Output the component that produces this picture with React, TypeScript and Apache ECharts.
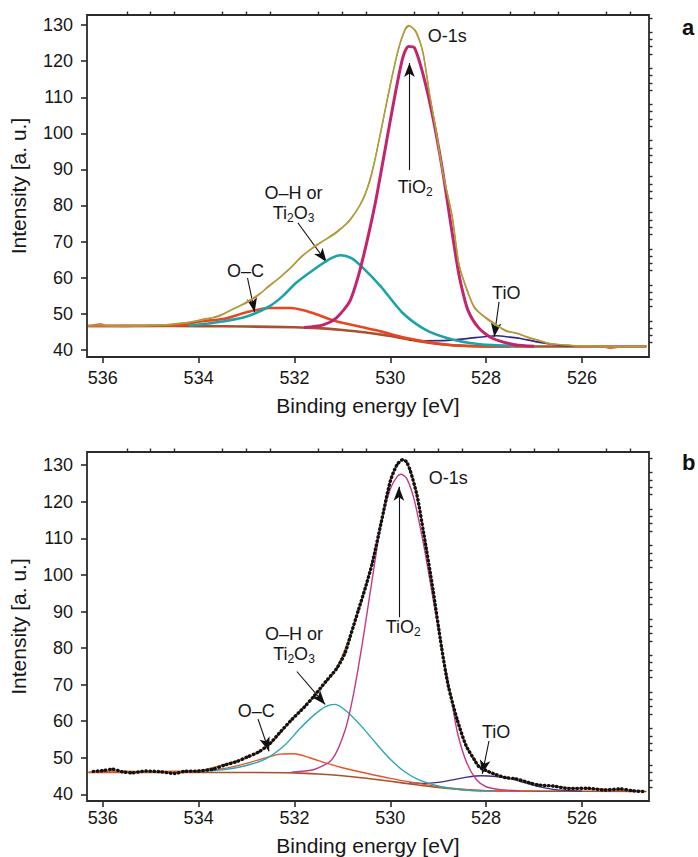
import React, { useEffect, useRef } from "react";
import * as echarts from "echarts";

const FONT = '"Liberation Sans", Arial, Helvetica, sans-serif';
type P = [number, number][];

// ---- tick values ----
const xMajorTicks = [526, 528, 530, 532, 534, 536];
const xMinorTicks = [525, 525.5, 526.5, 527, 527.5, 528.5, 529, 529.5, 530.5, 531, 531.5, 532.5, 533, 533.5, 534.5, 535, 535.5];
const yMajorTicks = [40, 50, 60, 70, 80, 90, 100, 110, 120, 130];
const yMinorTicks = [42, 44, 46, 48, 52, 54, 56, 58, 62, 64, 66, 68, 72, 74, 76, 78, 82, 84, 86, 88, 92, 94, 96, 98, 102, 104, 106, 108, 112, 114, 116, 118, 122, 124, 126, 128, 132];

// ---- panel a ----
const bgA: P = [[536.3, 46.6], [535, 46.6], [534, 46.55], [533, 46.45], [532, 46.25], [531.5, 46.0], [531, 45.5], [530.5, 44.8], [530, 43.8], [529.5, 42.6], [529, 41.6], [528.5, 41.1], [528, 40.95], [526, 40.9], [524.65, 40.9]];
const tio2A: P = [[531.8, 46.2], [531.4, 46.9], [531.13, 48.8], [530.85, 53.3], [530.67, 60.3], [530.48, 70.4], [530.3, 81.5], [530.11, 95.4], [529.92, 109.3], [529.74, 120.9], [529.62, 124.1], [529.5, 123.8], [529.36, 118.5], [529.2, 110.0], [529.05, 100.3], [528.9, 89.0], [528.76, 76.9], [528.62, 64.9], [528.53, 58.5], [528.38, 51.0], [528.15, 46.0], [527.87, 43.2], [527.4, 41.4], [527.0, 41.0]];
const ohA: P = [[534.2, 46.7], [533.8, 47.3], [533.46, 47.9], [533.0, 49.2], [532.53, 52.0], [532.25, 54.8], [531.97, 58.5], [531.6, 62.2], [531.23, 65.4], [531.04, 66.2], [530.81, 65.4], [530.57, 62.7], [530.2, 57.6], [529.74, 50.2], [529.27, 45.6], [528.8, 43.2], [528.34, 41.9], [527.87, 41.3], [527.4, 41.1]];
const ocA: P = [[536.3, 46.6], [534.8, 46.7], [534.4, 46.9], [533.93, 47.9], [533.46, 48.6], [533.0, 50.4], [532.53, 51.6], [532.07, 51.6], [531.79, 50.9], [531.51, 49.7], [531.13, 47.9], [530.67, 46.5], [530.2, 45.1], [529.74, 43.5], [529.27, 42.3], [528.8, 41.4], [528.2, 41.0], [527.5, 40.9]];
const tioA: P = [[529.6, 42.7], [529.27, 42.5], [528.8, 42.6], [528.4, 43.1], [528.0, 43.7], [527.78, 43.9], [527.5, 43.5], [527.31, 43.2], [526.94, 42.2], [526.6, 41.5], [526.38, 41.2], [526.0, 41.0]];
const fitA: P = [[536.3, 46.6], [535, 46.7], [534.4, 47.4], [533.93, 48.2], [533.46, 50.1], [533.0, 53.3], [532.53, 57.5], [532.07, 63.0], [531.6, 68.6], [531.13, 72.3], [530.85, 76.0], [530.57, 81.5], [530.39, 89.0], [530.2, 100.1], [530.01, 113.0], [529.83, 123.1], [529.69, 128.7], [529.6, 129.6], [529.46, 128.3], [529.32, 122.3], [529.18, 111.1], [529.04, 100.1], [528.9, 89.0], [528.71, 76.9], [528.57, 64.1], [528.43, 57.5], [528.24, 51.9], [527.96, 48.2], [527.59, 45.5], [527.13, 43.6], [526.67, 41.8], [526.0, 41.1], [525.0, 40.9], [524.65, 41.0]];
const rawA: P = [[536.3, 46.5], [536.05, 47.2], [535.9, 46.6], [535.5, 46.5], [535, 46.8], [534.6, 46.9], [534.2, 47.6], [533.93, 48.4], [533.6, 49.2], [533.3, 51.2], [533.0, 53.0], [532.75, 55.2], [532.53, 57.7], [532.3, 60.1], [532.07, 62.8], [531.85, 65.9], [531.6, 68.4], [531.35, 70.6], [531.13, 72.6], [530.85, 75.8], [530.57, 81.8], [530.39, 88.6], [530.2, 100.4], [530.01, 112.7], [529.83, 123.4], [529.69, 128.9], [529.62, 129.9], [529.55, 129.4], [529.46, 128.0], [529.32, 122.6], [529.18, 110.8], [529.04, 100.4], [528.9, 88.7], [528.71, 77.2], [528.57, 63.8], [528.43, 57.8], [528.24, 51.6], [527.96, 48.5], [527.75, 46.6], [527.59, 45.2], [527.35, 44.6], [527.13, 43.4], [526.9, 42.6], [526.67, 41.6], [526.3, 41.3], [526.0, 40.9], [525.7, 41.1], [525.4, 40.4], [525.1, 41.0], [524.8, 40.8], [524.65, 41.1]];
// annotations: [x, y, text]
const labelsA: [number, number, string][] = [
  [528.81, 127.0, "O-1s"],
  [529.48, 85.1, "{n|TiO}{s|2}"],
  [532.02, 80.7, "O–H or\n{n|Ti}{s|2}{n|O}{s|3}"],
  [533.02, 61.8, "O–C"],
  [527.58, 55.7, "TiO"],
];
// arrows: [x1, y1, x2, y2] (tail -> head)
const arrowsA: [number, number, number, number][] = [
  [529.6, 89.8, 529.6, 119.5],
  [531.93, 75.2, 531.33, 64.3],
  [532.98, 59.9, 532.83, 50.5],
  [527.73, 53.3, 527.83, 43.6],
];

// ---- panel b ----
const bgB: P = [[536.3, 46.0], [533, 46.0], [532, 45.9], [531.5, 45.6], [531, 45.1], [530.5, 44.4], [530, 43.6], [529.5, 42.7], [529, 41.9], [528.5, 41.3], [528, 41.0], [527, 40.9], [524.65, 40.8]];
const tio2B: P = [[532.06, 46.1], [531.59, 46.8], [531.22, 49.5], [530.94, 57.7], [530.75, 68.6], [530.56, 83.2], [530.38, 98.6], [530.19, 114.1], [530.0, 123.5], [529.85, 127.0], [529.77, 127.5], [529.65, 126.2], [529.5, 120.5], [529.3, 108.0], [529.1, 93.0], [528.9, 78.0], [528.75, 68.0], [528.6, 57.0], [528.4, 48.5], [528.2, 44.0], [528.0, 42.1], [527.7, 41.3], [527.3, 41.0]];
const ohB: P = [[534.0, 46.3], [533.5, 46.7], [533.0, 47.9], [532.6, 49.7], [532.2, 53.5], [531.9, 57.8], [531.6, 61.6], [531.35, 64.0], [531.15, 64.6], [530.9, 62.6], [530.6, 58.6], [530.3, 54.0], [530.0, 49.6], [529.7, 46.2], [529.4, 44.0], [529.0, 42.3], [528.6, 41.4], [528.2, 41.0], [527.8, 40.9]];
const ocB: P = [[536.3, 46.1], [534.5, 46.1], [534.0, 46.3], [533.5, 47.0], [533.0, 48.5], [532.6, 50.0], [532.3, 51.0], [532.0, 51.1], [531.7, 50.1], [531.3, 48.4], [531.0, 47.3], [530.5, 45.8], [530.0, 44.4], [529.5, 43.2], [529.0, 42.1], [528.5, 41.4], [528.0, 41.0], [527.0, 40.9]];
const tioB: P = [[529.6, 43.2], [529.3, 43.0], [529.0, 43.3], [528.7, 44.0], [528.4, 44.7], [528.1, 45.1], [527.8, 44.9], [527.5, 44.3], [527.2, 43.2], [526.9, 42.1], [526.6, 41.4], [526.3, 41.1], [526.0, 40.9]];
const fitB: P = [[536.2, 46.4], [535.5, 46.3], [535, 46.2], [534.5, 46.3], [533.93, 46.6], [533.46, 48.2], [532.99, 50.0], [532.52, 53.6], [532.06, 60.5], [531.59, 66.8], [531.12, 74.5], [530.84, 83.2], [530.66, 90.4], [530.38, 103.2], [530.19, 114.1], [530.0, 125.9], [529.86, 130.0], [529.74, 131.6], [529.58, 128.6], [529.44, 121.4], [529.3, 111.4], [529.11, 95.9], [528.93, 80.4], [528.79, 69.5], [528.6, 60.5], [528.42, 53.2], [528.14, 47.7], [527.85, 45.5], [527.39, 44.1], [526.92, 42.7], [526.27, 41.8], [525.52, 41.4], [524.73, 40.9]];
const rawB: P = [[536.2, 46.3], [536.0, 46.5], [535.8, 46.9], [535.6, 46.2], [535.4, 45.9], [535.1, 46.4], [534.8, 46.2], [534.5, 45.7], [534.3, 46.3], [534.0, 46.4], [533.7, 46.9], [533.46, 48.0], [533.2, 49.0], [532.99, 50.2], [532.75, 51.6], [532.52, 53.8], [532.3, 57.0], [532.06, 60.4], [531.8, 63.8], [531.59, 66.9], [531.35, 70.8], [531.12, 74.4], [530.95, 78.5], [530.84, 83.0], [530.66, 90.6], [530.5, 97.4], [530.38, 103.0], [530.19, 114.3], [530.0, 125.6], [529.86, 130.1], [529.74, 131.5], [529.66, 130.9], [529.58, 128.4], [529.44, 121.6], [529.3, 111.2], [529.11, 96.1], [528.93, 80.2], [528.79, 69.7], [528.6, 60.3], [528.42, 53.4], [528.25, 49.6], [528.14, 47.5], [527.85, 45.7], [527.6, 44.6], [527.39, 44.3], [527.1, 43.2], [526.92, 42.6], [526.6, 42.3], [526.27, 41.6], [525.9, 41.7], [525.52, 41.2], [525.2, 41.5], [524.95, 41.0], [524.73, 40.8]];
const labelsB: [number, number, string][] = [
  [528.79, 126.5, "O-1s"],
  [529.73, 85.9, "{n|TiO}{s|2}"],
  [532.01, 81.0, "O–H or\n{n|Ti}{s|2}{n|O}{s|3}"],
  [532.8, 62.7, "O–C"],
  [527.79, 57.0, "TiO"],
];
const arrowsB: [number, number, number, number][] = [
  [529.82, 88.4, 529.82, 124.1],
  [531.95, 73.6, 531.36, 64.6],
  [532.76, 60.6, 532.53, 51.8],
  [527.94, 54.6, 528.08, 45.6],
];

const X_MIN = 524.6;
const X_MAX = 536.33;
const TXT = "#161616";
const AX = "#2b2b2b";

function axesFor(gridIndex: number, labelMargin: number, nameGap: number, yMin: number, yMax: number) {
  const xCommon = {
    type: "value" as const,
    gridIndex,
    min: X_MIN,
    max: X_MAX,
    inverse: true,
    splitLine: { show: false },
    axisLine: { show: false },
  };
  const yCommon = {
    type: "value" as const,
    gridIndex,
    min: yMin,
    max: yMax,
    splitLine: { show: false },
    axisLine: { show: false },
  };
  const xs = [
    {
      ...xCommon,
      name: "Binding energy [eV]",
      nameLocation: "middle",
      nameGap,
      nameTextStyle: { fontSize: 21, fontFamily: FONT, color: TXT },
      axisTick: { show: true, inside: false, length: 6, customValues: xMajorTicks, lineStyle: { color: AX, width: 1.6 } },
      axisLabel: { show: true, customValues: xMajorTicks, margin: labelMargin, fontSize: 18, fontFamily: FONT, color: TXT },
    },
    {
      ...xCommon,
      axisTick: { show: true, inside: false, length: 3.5, customValues: xMinorTicks, lineStyle: { color: AX, width: 1.4 } },
      axisLabel: { show: false },
    },
  ];
  const ys = [
    {
      ...yCommon,
      name: "Intensity [a. u.]",
      nameLocation: "middle",
      nameGap: 58,
      nameRotate: 90,
      nameTextStyle: { fontSize: 21, fontFamily: FONT, color: TXT },
      axisTick: { show: true, inside: false, length: 6, customValues: yMajorTicks, lineStyle: { color: AX, width: 1.6 } },
      axisLabel: { show: true, customValues: yMajorTicks, margin: 14, fontSize: 18, fontFamily: FONT, color: TXT },
    },
    {
      ...yCommon,
      axisTick: { show: true, inside: false, length: 3.5, customValues: yMinorTicks.filter((v) => v < yMax), lineStyle: { color: AX, width: 1.4 } },
      axisLabel: { show: false },
    },
  ];
  return { xs, ys };
}

function lineSeries(data: P, axisIdx: number, color: string, width: number, z: number, extra: any = {}) {
  return {
    type: "line",
    xAxisIndex: axisIdx,
    yAxisIndex: axisIdx,
    data,
    showSymbol: false,
    symbol: "none",
    smooth: 0.25,
    z,
    silent: true,
    lineStyle: { color, width, ...(extra.lineStyle || {}) },
  };
}

const rich = {
  n: { fontSize: 18, fontFamily: FONT, color: TXT, lineHeight: 20 },
  s: { fontSize: 12, fontFamily: FONT, color: TXT, lineHeight: 20, verticalAlign: "top", padding: [9, 0, 0, 0] },
};

function labelSeries(labels: [number, number, string][], axisIdx: number) {
  return {
    type: "scatter",
    xAxisIndex: axisIdx,
    yAxisIndex: axisIdx,
    symbolSize: 0,
    silent: true,
    z: 10,
    itemStyle: { opacity: 1 },
    data: labels.map((l) => ({ value: [l[0], l[1]], label: { formatter: l[2] } })),
    label: {
      show: true,
      position: "inside",
      align: "center",
      verticalAlign: "middle",
      fontSize: 18,
      lineHeight: 20,
      fontFamily: FONT,
      color: TXT,
      opacity: 1,
      rich,
    },
  };
}

function arrowSeries(arrows: [number, number, number, number][], axisIdx: number) {
  return {
    type: "line",
    xAxisIndex: axisIdx,
    yAxisIndex: axisIdx,
    data: [],
    silent: true,
    z: 9,
    markLine: {
      silent: true,
      symbol: ["none", "arrow"],
      symbolSize: [8, 14],
      lineStyle: { color: "#111", width: 1.1, type: "solid" },
      label: { show: false },
      emphasis: { disabled: true },
      animation: false,
      data: arrows.map((a) => [{ coord: [a[0], a[1]] }, { coord: [a[2], a[3]] }]),
    },
  };
}

export default function App() {
  const ref = useRef<HTMLDivElement>(null);
  useEffect(() => {
    if (!ref.current) return;
    const chart = echarts.init(ref.current, undefined, { renderer: "svg" });
    const a = axesFor(0, 12, 38, 38, 132.8);
    const b = axesFor(1, 8, 34, 38.2, 133.6);
    const option: any = {
      animation: false,
      backgroundColor: "#ffffff",
      textStyle: { fontFamily: FONT },
      grid: [
        { left: 86, top: 15, width: 563, height: 342, show: true, borderColor: AX, borderWidth: 1.8, backgroundColor: "transparent" },
        { left: 86, top: 452, width: 563, height: 350, show: true, borderColor: AX, borderWidth: 1.8, backgroundColor: "transparent" },
      ],
      xAxis: [...a.xs, ...b.xs],
      yAxis: [...a.ys, ...b.ys],
      graphic: [
        { type: "text", left: 682, top: 16, style: { text: "a", font: `bold 22px ${FONT}`, fill: "#111" } },
        { type: "text", left: 682, top: 451, style: { text: "b", font: `bold 22px ${FONT}`, fill: "#111" } },
      ],
      series: [
        // panel a
        lineSeries(bgA, 0, "#a5532e", 2.6, 2),
        lineSeries(tioA, 0, "#2f2a86", 1.6, 3),
        lineSeries(ocA, 0, "#e8461e", 2.6, 4),
        lineSeries(ohA, 0, "#1ba3a6", 2.6, 5),
        lineSeries(tio2A, 0, "#c4246c", 3, 6),
        lineSeries(rawA, 0, "#ef6a3c", 1.6, 7),
        lineSeries(fitA, 0, "#86b83a", 1.1, 8),
        arrowSeries(arrowsA, 0),
        labelSeries(labelsA, 0),
        // panel b (axis index 2)
        lineSeries(bgB, 2, "#a5532e", 1.6, 2),
        lineSeries(tioB, 2, "#3a2c8c", 1.3, 3),
        lineSeries(ocB, 2, "#e8532a", 1.4, 4),
        lineSeries(ohB, 2, "#2aa8b0", 1.4, 5),
        lineSeries(tio2B, 2, "#c23a86", 1.4, 6),
        lineSeries(fitB, 2, "#d2691e", 1.6, 7),
        lineSeries(rawB, 2, "#111111", 3.4, 8, { lineStyle: { type: [0.5, 3.6], cap: "round" } }),
        arrowSeries(arrowsB, 2),
        labelSeries(labelsB, 2),
      ],
    };
    chart.setOption(option);
    return () => chart.dispose();
  }, []);
  return <div ref={ref} style={{ position: "absolute", left: 0, top: 0, width: 698, height: 857 }} />;
}
